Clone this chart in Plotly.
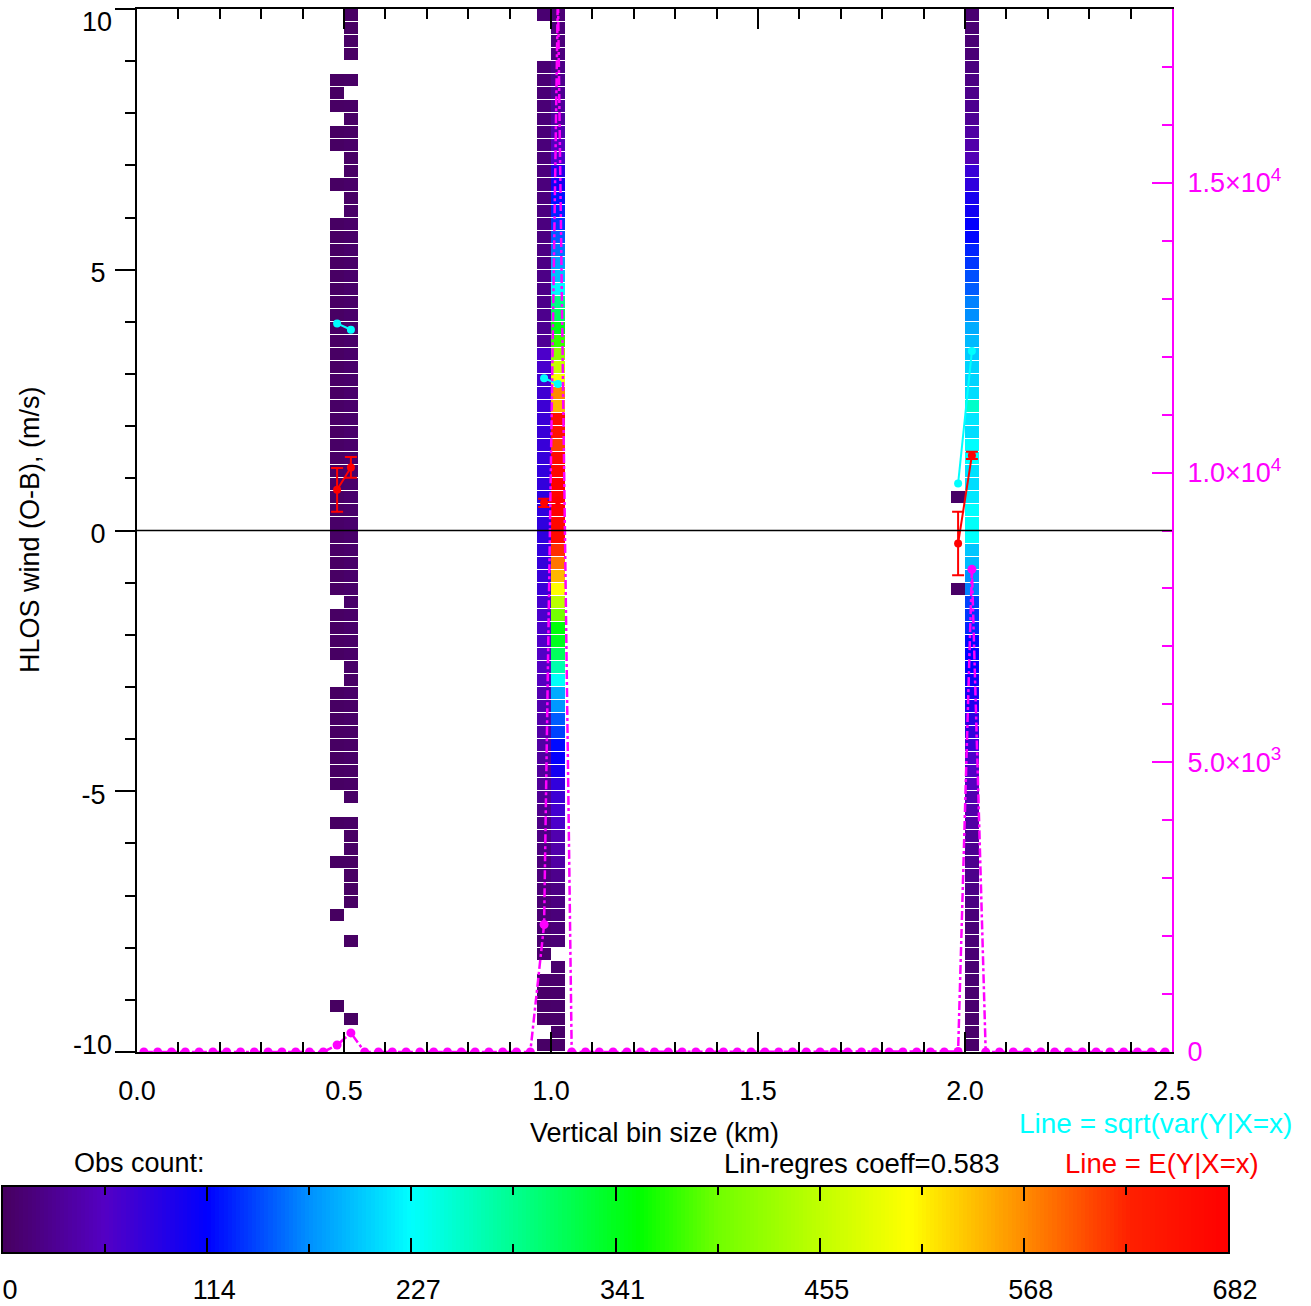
import numpy as np
import plotly.graph_objects as go

W, H = 1311, 1306

# ---------------- data ----------------
X_MIN, X_MAX, N_XBINS = 0.0, 2.5, 75
Y_MIN, Y_MAX, N_YBINS = -10.0, 10.0, 80
COUNT_MAX = 682

# observation counts per y-bin, listed from the top row (y=10) down to the bottom row (y=-10); 0 = empty
count_x0483 = [0, 0, 0, 0, 0, 2, 2, 3, 0, 2, 2, 0, 0, 2, 0, 0,
               2, 3, 2, 3, 3, 2, 3, 3, 4, 3, 3, 3, 4, 3, 4, 4, 3, 4, 4, 4, 5, 4, 4, 5,
               4, 4, 3, 3, 3, 0, 3, 2, 3, 2, 0, 0, 2, 2, 2, 3, 2, 2, 2, 2,
               0, 0, 2, 0, 0, 2, 0, 0, 0, 1, 0, 0, 0, 0, 0, 0, 1, 0, 0, 0]
count_x0517 = [3, 3, 4, 3, 0, 4, 0, 4, 4, 4, 5, 4, 4, 5, 4, 5,
               5, 5, 6, 5, 6, 6, 5, 6, 7, 6, 6, 7, 6, 7, 7, 6, 7, 7, 8, 7, 7, 8, 7, 8,
               7, 7, 6, 6, 6, 6, 5, 6, 5, 5, 5, 4, 5, 4, 5, 4, 4, 5, 4, 4,
               4, 0, 4, 3, 4, 3, 3, 3, 3, 0, 0, 3, 0, 0, 0, 0, 0, 2, 0, 0]
count_x0983 = [10, 0, 0, 0,
               12, 12, 13, 13, 14, 14, 15, 15, 16, 16, 17, 18, 18, 19, 20, 21, 22, 23, 24, 26, 28, 30,
               62, 65, 68, 70, 72, 74, 75, 76, 78, 80, 80, 82, 82, 82,
               82, 80, 78, 76, 74, 66, 64, 62, 60, 58, 56, 54,
               46, 44, 42, 40, 38, 36, 34, 32, 30,
               25, 22, 20, 18, 16, 15, 14, 12, 11, 10, 9,
               6, 0, 6, 5, 5, 4, 0, 4]
count_x1017 = [12, 14, 15, 17, 22, 25, 28, 32, 36, 45, 52, 62, 90, 100, 120, 128, 135, 150, 160, 180,
               195, 225, 290, 310, 345, 375, 420, 460, 500, 570, 545, 660, 650, 610, 665, 672, 682, 675, 680, 670,
               665, 620, 580, 545, 505, 450, 400, 350, 340, 310, 270, 230, 185, 175, 150, 140, 118, 112, 100, 80,
               72, 68, 62, 45, 42, 38, 25, 20, 18, 15, 14, 12, 0, 8, 7, 6, 6, 5, 5, 4]
count_x1983 = [0] * 37 + [4] + [0] * 6 + [4] + [0] * 35
count_x2017 = [10, 11, 12, 13, 18, 20, 24, 27, 30, 38, 42, 48, 75, 82, 98, 102, 112, 116, 128, 135,
               145, 150, 165, 170, 185, 192, 200, 205, 205, 210, 255, 215, 210, 227, 227, 212, 210, 215, 227, 230,
               228, 198, 192, 172, 165, 140, 135, 130, 118, 115, 112, 105, 100, 95, 85, 80, 75, 62, 58, 54,
               45, 42, 38, 30, 28, 26, 24, 22, 20, 15, 14, 13, 12, 11, 10, 9, 9, 8, 7, 6]
occupied_bins = [14, 15, 29, 30, 59, 60]

# total observations per x-bin (right axis, magenta)
total_count = [0, 0, 0, 0, 0, 0, 0, 0, 0, 0, 0, 0, 0, 0, 120,
               330, 0, 0, 0, 0, 0, 0, 0, 0, 0, 0, 0, 0, 0, 2200,
               18300, 0, 0, 0, 0, 0, 0, 0, 0, 0, 0, 0, 0, 0, 0,
               0, 0, 0, 0, 0, 0, 0, 0, 0, 0, 0, 0, 0, 0, 10,
               8330, 0, 0, 0, 0, 0, 0, 0, 0, 0, 0, 0, 0, 0, 0]

# conditional statistics at the occupied bins
stat_bins = [14, 15, 29, 30, 59, 60]
cond_mean = [0.78, 1.21, 0.53, 0.58, -0.25, 1.44]
cond_mean_err = [0.42, 0.20, 0.08, 0.03, 0.61, 0.07]
cond_std = [3.97, 3.85, 2.92, 2.81, 0.90, 3.44]

x_tick_vals = [0.0, 0.5, 1.0, 1.5, 2.0, 2.5]
x_tick_text = ["0.0", "0.5", "1.0", "1.5", "2.0", "2.5"]
y_tick_vals = [-10, -5, 0, 5, 10]
y_tick_text = ["", "-5", "0", "5", ""]
y_top_label = "10"
y_bottom_label = "-10"
y2_tick_vals = [0, 5000, 10000, 15000]
y2_tick_text = ["0", "5.0×10<sup>3</sup>", "1.0×10<sup>4</sup>", "1.5×10<sup>4</sup>"]
cbar_tick_text = ["0", "114", "227", "341", "455", "568", "682"]

# ---------------- build ----------------
x_edges = np.linspace(X_MIN, X_MAX, N_XBINS + 1)
y_edges = np.linspace(Y_MIN, Y_MAX, N_YBINS + 1)
x_centers = 0.5 * (x_edges[:-1] + x_edges[1:])

grid = [[None] * N_XBINS for _ in range(N_YBINS)]
for b, col in zip(occupied_bins, [count_x0483, count_x0517, count_x0983, count_x1017, count_x1983, count_x2017]):
    for r_top, v in enumerate(col):
        if v > 0:
            grid[N_YBINS - 1 - r_top][b] = v

mean_full = [None] * N_XBINS
err_full = [None] * N_XBINS
std_full = [None] * N_XBINS
for b, m, e, s in zip(stat_bins, cond_mean, cond_mean_err, cond_std):
    mean_full[b] = m
    err_full[b] = e
    std_full[b] = s

colorscale = [
    [0.0, "#47005f"],
    [0.083, "#5400c4"],
    [0.167, "#0000ff"],
    [0.25, "#0090ff"],
    [0.333, "#00ffff"],
    [0.417, "#00ff90"],
    [0.52, "#00ff00"],
    [0.583, "#70ff00"],
    [0.667, "#c0ff00"],
    [0.74, "#ffff00"],
    [0.833, "#ff8c00"],
    [0.92, "#ff2000"],
    [1.0, "#ff0000"],
]

MAG = "#ff00ff"
FONT = "Liberation Sans"
FS = 27

fig = go.Figure()

fig.add_trace(go.Heatmap(
    x=x_edges, y=y_edges, z=grid, colorscale=colorscale, zmin=0, zmax=COUNT_MAX,
    showscale=False, ygap=1, hoverinfo="skip", xaxis="x", yaxis="y"))

fig.add_trace(go.Scatter(
    x=x_centers, y=std_full, mode="lines+markers", connectgaps=False,
    line=dict(color="#00ffff", width=2), marker=dict(color="#00ffff", size=8),
    xaxis="x", yaxis="y", hoverinfo="skip"))

fig.add_trace(go.Scatter(
    x=x_centers, y=mean_full, mode="lines+markers", connectgaps=False,
    line=dict(color="#ff0000", width=2), marker=dict(color="#ff0000", size=8),
    error_y=dict(type="data", array=err_full, visible=True, color="#ff0000", thickness=2, width=6),
    xaxis="x", yaxis="y", hoverinfo="skip"))

fig.add_trace(go.Scatter(
    x=x_centers, y=total_count, mode="lines+markers",
    line=dict(color=MAG, width=2.5, dash="dashdot"), marker=dict(color=MAG, size=9),
    xaxis="x", yaxis="y2", hoverinfo="skip"))

# placeholders so the label-only overlay axes get drawn
fig.add_trace(go.Scatter(x=[None], y=[None], xaxis="x", yaxis="y4", hoverinfo="skip"))
fig.add_trace(go.Scatter(x=[None], y=[None], xaxis="x", yaxis="y5", hoverinfo="skip"))

# colour bar drawn as its own heatmap
cb_edges = np.linspace(0, COUNT_MAX, 301)
cb_centers = 0.5 * (cb_edges[:-1] + cb_edges[1:])
fig.add_trace(go.Heatmap(
    x=cb_edges, y=[0, 1], z=[cb_centers], colorscale=colorscale, zmin=0, zmax=COUNT_MAX,
    showscale=False, hoverinfo="skip", xaxis="x2", yaxis="y3"))

px_x = lambda p: p / W
px_y = lambda p: 1 - p / H

axis_font = dict(family=FONT, size=FS, color="black")
Y_DOMAIN = [px_y(1052), px_y(9)]

label_only = dict(overlaying="y", side="left", anchor="x", range=[Y_MIN, Y_MAX],
                  tickfont=axis_font, ticks="", showline=False, showgrid=False,
                  zeroline=False, automargin=False, ticklabelstandoff=24)

fig.update_layout(
    width=W, height=H, margin=dict(l=0, r=0, t=0, b=0, autoexpand=False),
    paper_bgcolor="white", plot_bgcolor="white", showlegend=False,
    font=dict(family=FONT, size=FS, color="black"),
    xaxis=dict(domain=[px_x(137), px_x(1172)], range=[X_MIN, X_MAX], anchor="y", automargin=False,
               tickvals=x_tick_vals, ticktext=x_tick_text, tickfont=axis_font,
               ticks="inside", ticklen=20, tickwidth=2, tickcolor="black",
               minor=dict(dtick=0.1, tick0=0, ticks="inside", ticklen=10, tickwidth=2, tickcolor="black", showgrid=False),
               showline=True, linewidth=2, linecolor="black", mirror="ticks",
               showgrid=False, zeroline=False, ticklabelstandoff=14),
    yaxis=dict(domain=Y_DOMAIN, range=[Y_MIN, Y_MAX], anchor="x", automargin=False,
               tickvals=y_tick_vals, ticktext=y_tick_text, tickfont=axis_font,
               ticks="outside", ticklen=20, tickwidth=2, tickcolor="black",
               minor=dict(dtick=1, tick0=0, ticks="outside", ticklen=10, tickwidth=2, tickcolor="black", showgrid=False),
               showline=True, linewidth=2, linecolor="black", mirror=False,
               showgrid=False, zeroline=False, ticklabelstandoff=4, ticklabelshift=3),
    yaxis4=dict(tickvals=[Y_MAX], ticktext=[y_top_label], ticklabelshift=13, **label_only),
    yaxis5=dict(tickvals=[Y_MIN], ticktext=[y_bottom_label], ticklabelshift=-7, **label_only),
    yaxis2=dict(overlaying="y", side="right", anchor="x", range=[0, 18000], automargin=False,
                tickvals=y2_tick_vals, ticktext=y2_tick_text,
                tickfont=dict(family=FONT, size=FS, color=MAG),
                ticks="inside", ticklen=20, tickwidth=2, tickcolor=MAG,
                minor=dict(dtick=1000, tick0=0, ticks="inside", ticklen=10, tickwidth=2, tickcolor=MAG, showgrid=False),
                showline=True, linewidth=2, linecolor=MAG, showgrid=False, zeroline=False,
                ticklabelstandoff=8),
    xaxis2=dict(domain=[px_x(3), px_x(1228)], range=[0, COUNT_MAX], anchor="y3", automargin=False,
                tickvals=[COUNT_MAX * i / 6 for i in range(7)], ticktext=cbar_tick_text,
                tickfont=axis_font, ticks="inside", ticklen=14, tickwidth=2, tickcolor="black",
                minor=dict(dtick=COUNT_MAX / 12, tick0=0, ticks="inside", ticklen=8, tickwidth=2, tickcolor="black", showgrid=False),
                showline=True, linewidth=2, linecolor="black", mirror="ticks",
                showgrid=False, zeroline=False, ticklabelstandoff=13, ticklabelshift=7),
    yaxis3=dict(domain=[px_y(1252), px_y(1187)], range=[0, 1], anchor="x2", automargin=False,
                showticklabels=False, ticks="", showline=True, linewidth=2, linecolor="black",
                mirror=True, showgrid=False, zeroline=False),
)

fig.add_shape(type="line", xref="x domain", yref="y", x0=0, x1=1, y0=0, y1=0,
              line=dict(color="black", width=1.5), layer="above")

annos = [
    dict(text="HLOS wind (O-B), (m/s)", x=px_x(30), y=px_y(530), textangle=-90,
         xanchor="center", yanchor="middle", font=dict(family=FONT, size=FS, color="black")),
    dict(text="Vertical bin size (km)", x=px_x(654), y=px_y(1133),
         xanchor="center", yanchor="middle", font=dict(family=FONT, size=FS, color="black")),
    dict(text="Obs count:", x=px_x(72), y=px_y(1163),
         xanchor="left", yanchor="middle", font=dict(family=FONT, size=FS, color="black")),
    dict(text="Lin-regres coeff=0.583", x=px_x(722), y=px_y(1163),
         xanchor="left", yanchor="middle", font=dict(family=FONT, size=FS + 0.5, color="black")),
    dict(text="Line = sqrt(var(Y|X=x)", x=px_x(1294), y=px_y(1123),
         xanchor="right", yanchor="middle", font=dict(family=FONT, size=FS + 1, color="#00ffff")),
    dict(text="Line = E(Y|X=x)", x=px_x(1261), y=px_y(1163),
         xanchor="right", yanchor="middle", font=dict(family=FONT, size=FS + 0.5, color="#ff0000")),
]
for a in annos:
    fig.add_annotation(xref="paper", yref="paper", showarrow=False, **a)

fig.write_html("out.html", config={"displayModeBar": False},
               post_script="document.body.style.margin='0px';")
